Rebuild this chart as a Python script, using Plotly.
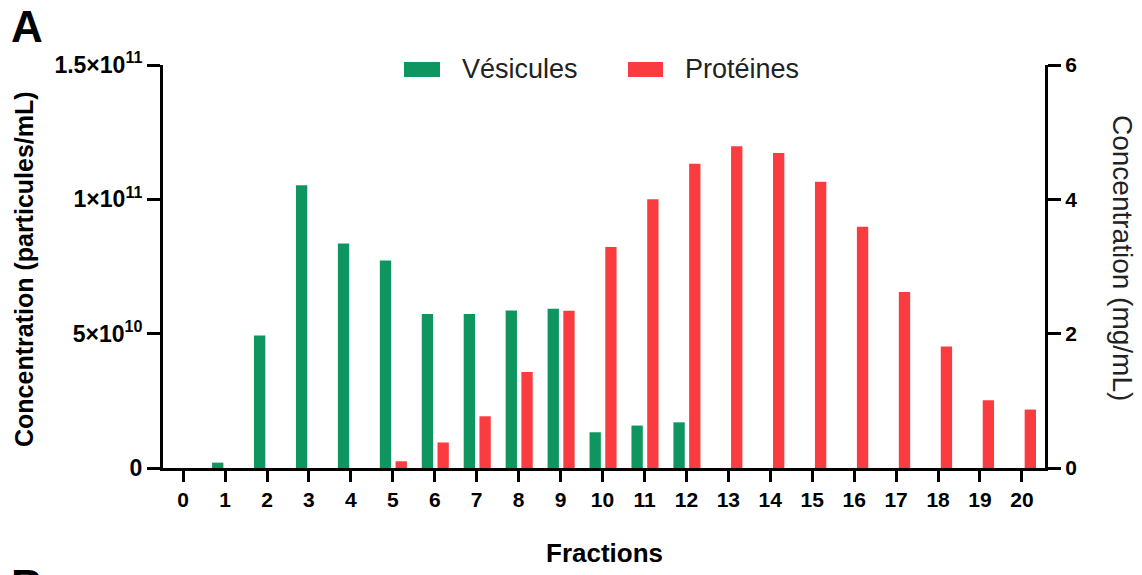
import plotly.graph_objects as go

fractions = list(range(21))
vesicules = [0, 2.0e9, 4.93e10, 1.052e11, 8.36e10, 7.72e10, 5.73e10, 5.73e10, 5.86e10, 5.93e10,
             1.33e10, 1.58e10, 1.70e10, 0, 0, 0, 0, 0, 0, 0, 0]
proteines = [0, 0, 0, 0, 0, 0.10, 0.38, 0.77, 1.43, 2.34, 3.29, 4.00, 4.53, 4.79, 4.69, 4.26,
             3.59, 2.62, 1.81, 1.01, 0.87]

left_tickvals = [0, 5e10, 1e11, 1.5e11]
left_ticktext = ["0", "5×10<sup>10</sup>", "1×10<sup>11</sup>", "1.5×10<sup>11</sup>"]
right_tickvals = [0, 2, 4, 6]
x_ticktext = [str(f) for f in fractions]
series_names = ["Vésicules", "Protéines"]

GREEN = "#0F9660"
RED = "#FA3C40"
FONT = "Liberation Sans, Arial, sans-serif"

# page body has an 8px margin: plot area spans x 163..1045, y 65..468 in the window
OFF = 8
PL, PR, PT, PB = 163, 1045, 65, 468
PW, PH = PR - PL, PB - PT


def px_x(px):
    return (px - PL) / PW


def px_y(py):
    return (PB - py) / PH


fig = go.Figure()
fig.add_trace(go.Bar(x=fractions, y=vesicules, name=series_names[0], marker_color=GREEN,
                     marker_line_width=0, offset=-0.31, width=0.27, yaxis="y"))
fig.add_trace(go.Bar(x=fractions, y=proteines, name=series_names[1], marker_color=RED,
                     marker_line_width=0, offset=0.065, width=0.27, yaxis="y2"))

axis_common = dict(showline=True, linecolor="black", linewidth=3, ticks="outside",
                   tickcolor="black", tickwidth=3, showgrid=False, zeroline=False)
tick_font = dict(family=FONT, size=21, color="black", weight="bold")

fig.update_layout(
    width=1142 - OFF, height=575 - OFF,
    margin=dict(l=PL - OFF, r=1142 - PR, t=PT - OFF, b=575 - PB),
    plot_bgcolor="white", paper_bgcolor="white",
    barmode="overlay",
    showlegend=False,
    font=dict(family=FONT, color="black"),
    xaxis=dict(range=[-0.48, 20.55], tickvals=fractions, ticktext=x_ticktext,
               ticklen=11, tickfont=tick_font, **axis_common),
    yaxis=dict(range=[0, 1.5e11], tickvals=left_tickvals, ticktext=left_ticktext,
               ticklen=13, tickfont=dict(tick_font, size=23), **axis_common),
    yaxis2=dict(range=[0, 6], tickvals=right_tickvals, overlaying="y", side="right",
                ticklen=13, tickfont=tick_font, **axis_common),
)

# legend drawn as swatches + labels
legend_items = [(404, 440, 460, GREEN), (628, 663, 683, RED)]
for (x0, x1, tx, col), name in zip(legend_items, series_names):
    fig.add_shape(type="rect", xref="paper", yref="paper", x0=px_x(x0), x1=px_x(x1),
                  y0=px_y(77), y1=px_y(62), fillcolor=col, line_width=0)
    fig.add_annotation(text=name, xref="paper", yref="paper", x=px_x(tx), y=px_y(69),
                       xanchor="left", yanchor="middle", showarrow=False,
                       font=dict(family=FONT, size=27, color="#222"))

fig.add_annotation(text="Fractions", xref="paper", yref="paper", x=0.5, y=px_y(553),
                   xanchor="center", yanchor="middle", showarrow=False,
                   font=dict(family=FONT, size=26, color="black", weight="bold"))
fig.add_annotation(text="Concentration (particules/mL)", xref="paper", yref="paper",
                   x=px_x(24), y=px_y(269), textangle=-90,
                   xanchor="center", yanchor="middle", showarrow=False,
                   font=dict(family=FONT, size=25, color="black", weight="bold"))
fig.add_annotation(text="Concentration (mg/mL)", xref="paper", yref="paper",
                   x=px_x(1123), y=px_y(258), textangle=90,
                   xanchor="center", yanchor="middle", showarrow=False,
                   font=dict(family=FONT, size=28, color="#222"))
fig.add_annotation(text="A", xref="paper", yref="paper",
                   x=px_x(27), y=px_y(26),
                   xanchor="center", yanchor="middle", showarrow=False,
                   font=dict(family=FONT, size=44, color="black", weight="bold"))
fig.add_annotation(text="B", xref="paper", yref="paper",
                   x=px_x(27), y=px_y(585),
                   xanchor="center", yanchor="middle", showarrow=False,
                   font=dict(family=FONT, size=44, color="black", weight="bold"))

fig.write_html("out.html")
